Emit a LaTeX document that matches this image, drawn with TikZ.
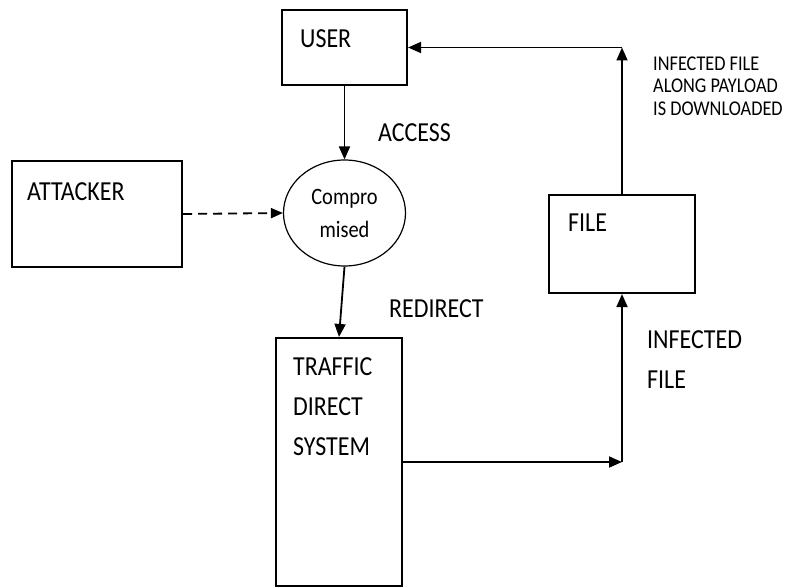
\documentclass[tikz,border=0pt]{standalone}
\usepackage{fontspec}
\setmainfont{Carlito}[FakeStretch=0.87]
\usepackage{tikz}
\usetikzlibrary{positioning,shapes.geometric,arrows.meta,calc}

\begin{document}
\begin{tikzpicture}[
    x=1pt, y=-1pt, >={Triangle[length=13pt,width=11pt]},
    blk/.style={draw,line width=2.1pt,inner sep=0pt},
    txt/.style={inner sep=0pt,anchor=west,align=left,font=\fontsize{27.5}{40}\selectfont},
    note/.style={txt,font=\fontsize{21}{22.5}\selectfont},
    arr/.style={->,line width=1.8pt},
  ]
  \useasboundingbox (0,0) rectangle (792,588);
  % boxes
  \node[blk,minimum width=125,minimum height=75] (user) at (344.5,47.5) {};
  \node[blk,minimum width=170,minimum height=106] (attacker) at (97,214) {};
  \node[draw,ellipse,line width=1.2pt,minimum width=122,minimum height=106,inner sep=0pt,
        align=center,font=\fontsize{23.5}{33}\selectfont] (comp) at (344.5,213) {Compro\\mised};
  \node[blk,minimum width=126,minimum height=248] (tds) at (339,462) {};
  \node[blk,minimum width=146,minimum height=98] (file) at (622,244) {};
  % texts in the boxes
  \node[txt] (user-t) at (300,39) {USER};
  \node[txt] (attacker-t) at (27,192) {ATTACKER};
  \node[txt] (tds-t) at (293,407) {TRAFFIC\\DIRECT\\SYSTEM};
  \node[txt] (file-t) at (568,223) {FILE};
  % corners
  \coordinate (c1) at (tds.east -| file.south);
  \coordinate (c2) at (user.east -| file.north);
  % connectors
  \draw[arr] (user.south) -- (comp.north);
  \draw[arr,>={Triangle[length=12pt,width=10pt]},dash pattern=on 9pt off 6pt] (attacker.east) -- (comp.west);
  \draw[arr] (comp.south) -- (tds.north);
  \draw[arr] (tds.east) -- (c1);
  \draw[arr] (c1) -- (file.south);
  \draw[arr] (file.north) -- (c2);
  \draw[arr] (c2) -- (user.east);
  % labels
  \node[txt] (access) at (378,133) {ACCESS};
  \node[txt] (redirect) at (389,309) {REDIRECT};
  \node[txt] (infected) at (647,360) {INFECTED\\FILE};
  \node[note] (payload) at (653,86) {INFECTED FILE\\ALONG PAYLOAD\\IS DOWNLOADED};
\end{tikzpicture}
\end{document}
